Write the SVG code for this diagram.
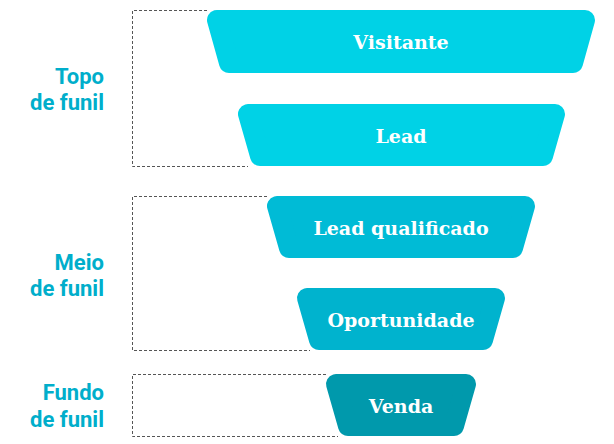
<svg xmlns="http://www.w3.org/2000/svg" width="614" height="444" viewBox="0 0 614 444">
<style>
.s{stroke-width:20;stroke-linejoin:round}
.t{font-family:"DejaVu Serif","Liberation Serif",serif;font-weight:bold;font-size:19px;fill:#fff;text-anchor:middle}
.l{font-family:Roboto,"Liberation Sans",sans-serif;font-weight:bold;font-size:22px;fill:#00AECB;text-anchor:end}
.d{fill:none;stroke:#555;stroke-width:1;stroke-dasharray:3,2}
</style>
<rect width="614" height="444" fill="#fff"/>
<g id="connectors">
<path class="d" d="M207,10.5H132.5V166.5H248"/>
<path class="d" d="M267,196.5H132.5V350.5H310"/>
<path class="d" d="M326,374.5H132.5V436.5H338"/>
</g>
<g id="labels">
<text class="l" x="104" y="84">Topo</text><text class="l" x="104" y="110">de funil</text>
<text class="l" x="104" y="270">Meio</text><text class="l" x="104" y="296">de funil</text>
<text class="l" x="104" y="400">Fundo</text><text class="l" x="104" y="427">de funil</text>
</g>
<g id="visitante"><polygon class="s" fill="#00D2E6" stroke="#00D2E6" points="217,20 585,20 573,63 229,63"/><text class="t" x="401" y="49">Visitante</text></g>
<g id="lead"><polygon class="s" fill="#00D2E6" stroke="#00D2E6" points="248,114 555,114 543,156 260,156"/><text class="t" x="401" y="143">Lead</text></g>
<g id="lead-qualificado"><polygon class="s" fill="#00BBD6" stroke="#00BBD6" points="277,206 525,206 513,248 289,248"/><text class="t" x="401" y="235">Lead qualificado</text></g>
<g id="oportunidade"><polygon class="s" fill="#00B3CE" stroke="#00B3CE" points="307,298 495,298 483,340 319,340"/><text class="t" x="401" y="327">Oportunidade</text></g>
<g id="venda"><polygon class="s" fill="#0099AC" stroke="#0099AC" points="336,384 466,384 454,426 348,426"/><text class="t" x="401" y="413">Venda</text></g>
</svg>
